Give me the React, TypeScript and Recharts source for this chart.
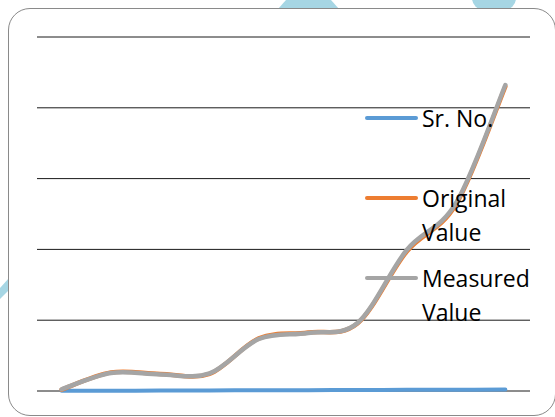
import React from 'react';
import { LineChart, Line, XAxis, YAxis, CartesianGrid, Legend } from 'recharts';

const categories = ['1', '2', '3', '4', '5', '6', '7', '8', '9', '10'];
const srNo = [1, 2, 3, 4, 5, 6, 7, 8, 9, 10];
const originalValue = [10, 130, 120, 121, 372, 413, 476, 985, 1318, 2150];
const measuredValue = [12, 127, 117, 124, 367, 410, 480, 996, 1328, 2161];
const yTicks = [0, 500, 1000, 1500, 2000, 2500];
const seriesNames = ['Sr. No.', 'Original Value', 'Measured Value'];
const seriesColors = ['#5B9BD5', '#ED7D31', '#A5A5A5'];

const data = categories.map((c, i) => ({
  cat: c,
  sr: srNo[i],
  orig: originalValue[i],
  meas: measuredValue[i],
}));

// Excel-like smoothed line (Catmull-Rom via cubic Bezier)
const excelSmooth = (context: any) => {
  let xs: number[] = [];
  let ys: number[] = [];
  return {
    areaStart() {},
    areaEnd() {},
    lineStart() {
      xs = [];
      ys = [];
    },
    lineEnd() {
      const n = xs.length;
      if (n === 0) return;
      context.moveTo(xs[0], ys[0]);
      for (let i = 0; i < n - 1; i++) {
        const i0 = Math.max(0, i - 1);
        const i3 = Math.min(n - 1, i + 2);
        const c1x = xs[i] + (xs[i + 1] - xs[i0]) / 6;
        const c1y = ys[i] + (ys[i + 1] - ys[i0]) / 6;
        const c2x = xs[i + 1] - (xs[i3] - xs[i]) / 6;
        const c2y = ys[i + 1] - (ys[i3] - ys[i]) / 6;
        context.bezierCurveTo(c1x, c1y, c2x, c2y, xs[i + 1], ys[i + 1]);
      }
    },
    point(x: number, y: number) {
      xs.push(+x);
      ys.push(+y);
    },
  };
};

const renderLegend = (props: any) => {
  const payload = [...(props.payload || [])].sort(
    (a: any, b: any) => seriesNames.indexOf(a.value) - seriesNames.indexOf(b.value)
  );
  return (
    <div style={{ fontFamily: '"Open Sans", sans-serif', fontSize: 23, color: '#000' }}>
      {payload.map((entry: any, i: number) => (
        <div key={i} style={{ display: 'flex', alignItems: 'flex-start', height: 80 }}>
          <div
            style={{
              width: 53,
              height: 4,
              marginTop: 15,
              background: entry.color,
              borderRadius: 2,
              flex: 'none',
            }}
          />
          <div style={{ width: 118, lineHeight: '34px', marginLeft: 4, whiteSpace: 'normal' }}>
            {entry.value}
          </div>
        </div>
      ))}
    </div>
  );
};

export default function App() {
  return (
    <div
      style={{
        position: 'fixed',
        left: 0,
        top: 0,
        width: 555,
        height: 417,
        overflow: 'hidden',
        background: '#fff',
      }}
    >
      <svg width={555} height={417} style={{ position: 'absolute', left: 0, top: 0 }}>
        <polygon points="278,9 339,9 331,0 286,0" fill="#A6D6E4" />
        <rect x={472} y={-24} width={44} height={34} rx={12} fill="#A6D6E4" />
        <polygon points="0,288 9,278 9,290 0,299" fill="#A6D6E4" />
      </svg>
      <div
        style={{
          position: 'absolute',
          left: 8,
          top: 8,
          width: 548,
          height: 408,
          boxSizing: 'border-box',
          border: '1px solid #8a8a8a',
          borderRadius: 22,
          background: '#fff',
        }}
      />
      <div style={{ position: 'absolute', left: 0, top: 0 }}>
        <LineChart width={555} height={417} data={data} margin={{ top: 37, right: 25, bottom: 26, left: 37 }}>
          <CartesianGrid vertical={false} stroke="#1a1a1a" strokeWidth={1} />
          <XAxis dataKey="cat" hide padding={{ left: 24.65, right: 24.65 }} />
          <YAxis hide domain={[0, 2500]} ticks={yTicks} />
          <Legend
            layout="vertical"
            align="center"
            verticalAlign="middle"
            wrapperStyle={{ left: 365, top: 101, width: 190, height: 240 }}
            content={renderLegend}
          />
          <Line
            dataKey="sr"
            name={seriesNames[0]}
            stroke={seriesColors[0]}
            strokeWidth={4}
            type={excelSmooth as any}
            dot={false}
            activeDot={false}
            strokeLinecap="round"
            isAnimationActive={false}
          />
          <Line
            dataKey="orig"
            name={seriesNames[1]}
            stroke={seriesColors[1]}
            strokeWidth={4.5}
            type={excelSmooth as any}
            dot={false}
            activeDot={false}
            strokeLinecap="round"
            isAnimationActive={false}
          />
          <Line
            dataKey="meas"
            name={seriesNames[2]}
            stroke={seriesColors[2]}
            strokeWidth={4.5}
            type={excelSmooth as any}
            dot={false}
            activeDot={false}
            strokeLinecap="round"
            isAnimationActive={false}
          />
        </LineChart>
      </div>
    </div>
  );
}
